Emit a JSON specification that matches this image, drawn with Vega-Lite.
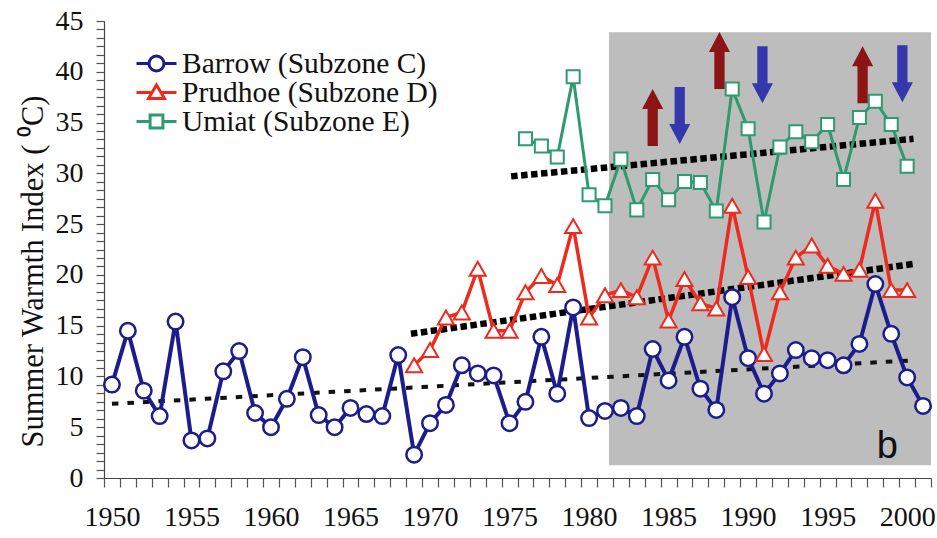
{
  "$schema": "https://vega.github.io/schema/vega-lite/v6.json",
  "width": 827,
  "height": 457,
  "autosize": {"type": "none"},
  "padding": {"left": 104, "top": 21, "right": 6, "bottom": 60},
  "background": "white",
  "config": {
    "view": {"stroke": null},
    "axis": {
      "grid": false,
      "domainColor": "#444444",
      "domainWidth": 1.2,
      "tickColor": "#555555",
      "tickWidth": 1.2,
      "labelFont": "Liberation Serif",
      "labelFontSize": 28,
      "labelColor": "#111111",
      "labelOverlap": false,
      "titleFont": "Liberation Serif",
      "titleFontSize": 30.5,
      "titleFontWeight": "normal",
      "titleColor": "#111111"
    }
  },
  "datasets": {
    "series": [
      {"station": "Barrow (Subzone C)", "year": 1950, "value": 9.2},
      {"station": "Barrow (Subzone C)", "year": 1951, "value": 14.5},
      {"station": "Barrow (Subzone C)", "year": 1952, "value": 8.6},
      {"station": "Barrow (Subzone C)", "year": 1953, "value": 6.1},
      {"station": "Barrow (Subzone C)", "year": 1954, "value": 15.4},
      {"station": "Barrow (Subzone C)", "year": 1955, "value": 3.7},
      {"station": "Barrow (Subzone C)", "year": 1956, "value": 3.9},
      {"station": "Barrow (Subzone C)", "year": 1957, "value": 10.5},
      {"station": "Barrow (Subzone C)", "year": 1958, "value": 12.5},
      {"station": "Barrow (Subzone C)", "year": 1959, "value": 6.4},
      {"station": "Barrow (Subzone C)", "year": 1960, "value": 5.0},
      {"station": "Barrow (Subzone C)", "year": 1961, "value": 7.8},
      {"station": "Barrow (Subzone C)", "year": 1962, "value": 11.9},
      {"station": "Barrow (Subzone C)", "year": 1963, "value": 6.2},
      {"station": "Barrow (Subzone C)", "year": 1964, "value": 5.0},
      {"station": "Barrow (Subzone C)", "year": 1965, "value": 6.9},
      {"station": "Barrow (Subzone C)", "year": 1966, "value": 6.3},
      {"station": "Barrow (Subzone C)", "year": 1967, "value": 6.1},
      {"station": "Barrow (Subzone C)", "year": 1968, "value": 12.1},
      {"station": "Barrow (Subzone C)", "year": 1969, "value": 2.3},
      {"station": "Barrow (Subzone C)", "year": 1970, "value": 5.4},
      {"station": "Barrow (Subzone C)", "year": 1971, "value": 7.2},
      {"station": "Barrow (Subzone C)", "year": 1972, "value": 11.1},
      {"station": "Barrow (Subzone C)", "year": 1973, "value": 10.3},
      {"station": "Barrow (Subzone C)", "year": 1974, "value": 10.1},
      {"station": "Barrow (Subzone C)", "year": 1975, "value": 5.4},
      {"station": "Barrow (Subzone C)", "year": 1976, "value": 7.5},
      {"station": "Barrow (Subzone C)", "year": 1977, "value": 13.9},
      {"station": "Barrow (Subzone C)", "year": 1978, "value": 8.3},
      {"station": "Barrow (Subzone C)", "year": 1979, "value": 16.8},
      {"station": "Barrow (Subzone C)", "year": 1980, "value": 5.9},
      {"station": "Barrow (Subzone C)", "year": 1981, "value": 6.6},
      {"station": "Barrow (Subzone C)", "year": 1982, "value": 6.9},
      {"station": "Barrow (Subzone C)", "year": 1983, "value": 6.1},
      {"station": "Barrow (Subzone C)", "year": 1984, "value": 12.7},
      {"station": "Barrow (Subzone C)", "year": 1985, "value": 9.6},
      {"station": "Barrow (Subzone C)", "year": 1986, "value": 13.9},
      {"station": "Barrow (Subzone C)", "year": 1987, "value": 8.8},
      {"station": "Barrow (Subzone C)", "year": 1988, "value": 6.7},
      {"station": "Barrow (Subzone C)", "year": 1989, "value": 17.8},
      {"station": "Barrow (Subzone C)", "year": 1990, "value": 11.8},
      {"station": "Barrow (Subzone C)", "year": 1991, "value": 8.3},
      {"station": "Barrow (Subzone C)", "year": 1992, "value": 10.3},
      {"station": "Barrow (Subzone C)", "year": 1993, "value": 12.6},
      {"station": "Barrow (Subzone C)", "year": 1994, "value": 11.8},
      {"station": "Barrow (Subzone C)", "year": 1995, "value": 11.6},
      {"station": "Barrow (Subzone C)", "year": 1996, "value": 11.1},
      {"station": "Barrow (Subzone C)", "year": 1997, "value": 13.2},
      {"station": "Barrow (Subzone C)", "year": 1998, "value": 19.1},
      {"station": "Barrow (Subzone C)", "year": 1999, "value": 14.2},
      {"station": "Barrow (Subzone C)", "year": 2000, "value": 9.9},
      {"station": "Barrow (Subzone C)", "year": 2001, "value": 7.1},
      {"station": "Prudhoe (Subzone D)", "year": 1969, "value": 11.1},
      {"station": "Prudhoe (Subzone D)", "year": 1970, "value": 12.6},
      {"station": "Prudhoe (Subzone D)", "year": 1971, "value": 15.8},
      {"station": "Prudhoe (Subzone D)", "year": 1972, "value": 16.3},
      {"station": "Prudhoe (Subzone D)", "year": 1973, "value": 20.6},
      {"station": "Prudhoe (Subzone D)", "year": 1974, "value": 14.5},
      {"station": "Prudhoe (Subzone D)", "year": 1975, "value": 14.5},
      {"station": "Prudhoe (Subzone D)", "year": 1976, "value": 18.3},
      {"station": "Prudhoe (Subzone D)", "year": 1977, "value": 19.9},
      {"station": "Prudhoe (Subzone D)", "year": 1978, "value": 19.0},
      {"station": "Prudhoe (Subzone D)", "year": 1979, "value": 24.8},
      {"station": "Prudhoe (Subzone D)", "year": 1980, "value": 15.8},
      {"station": "Prudhoe (Subzone D)", "year": 1981, "value": 18.0},
      {"station": "Prudhoe (Subzone D)", "year": 1982, "value": 18.5},
      {"station": "Prudhoe (Subzone D)", "year": 1983, "value": 17.8},
      {"station": "Prudhoe (Subzone D)", "year": 1984, "value": 21.7},
      {"station": "Prudhoe (Subzone D)", "year": 1985, "value": 15.5},
      {"station": "Prudhoe (Subzone D)", "year": 1986, "value": 19.6},
      {"station": "Prudhoe (Subzone D)", "year": 1987, "value": 17.2},
      {"station": "Prudhoe (Subzone D)", "year": 1988, "value": 16.7},
      {"station": "Prudhoe (Subzone D)", "year": 1989, "value": 26.8},
      {"station": "Prudhoe (Subzone D)", "year": 1990, "value": 19.8},
      {"station": "Prudhoe (Subzone D)", "year": 1991, "value": 12.2},
      {"station": "Prudhoe (Subzone D)", "year": 1992, "value": 18.3},
      {"station": "Prudhoe (Subzone D)", "year": 1993, "value": 21.7},
      {"station": "Prudhoe (Subzone D)", "year": 1994, "value": 22.9},
      {"station": "Prudhoe (Subzone D)", "year": 1995, "value": 20.9},
      {"station": "Prudhoe (Subzone D)", "year": 1996, "value": 20.1},
      {"station": "Prudhoe (Subzone D)", "year": 1997, "value": 20.5},
      {"station": "Prudhoe (Subzone D)", "year": 1998, "value": 27.3},
      {"station": "Prudhoe (Subzone D)", "year": 1999, "value": 18.5},
      {"station": "Prudhoe (Subzone D)", "year": 2000, "value": 18.5},
      {"station": "Umiat (Subzone E)", "year": 1976, "value": 33.4},
      {"station": "Umiat (Subzone E)", "year": 1977, "value": 32.7},
      {"station": "Umiat (Subzone E)", "year": 1978, "value": 31.6},
      {"station": "Umiat (Subzone E)", "year": 1979, "value": 39.5},
      {"station": "Umiat (Subzone E)", "year": 1980, "value": 27.9},
      {"station": "Umiat (Subzone E)", "year": 1981, "value": 26.8},
      {"station": "Umiat (Subzone E)", "year": 1982, "value": 31.4},
      {"station": "Umiat (Subzone E)", "year": 1983, "value": 26.4},
      {"station": "Umiat (Subzone E)", "year": 1984, "value": 29.4},
      {"station": "Umiat (Subzone E)", "year": 1985, "value": 27.4},
      {"station": "Umiat (Subzone E)", "year": 1986, "value": 29.2},
      {"station": "Umiat (Subzone E)", "year": 1987, "value": 29.1},
      {"station": "Umiat (Subzone E)", "year": 1988, "value": 26.3},
      {"station": "Umiat (Subzone E)", "year": 1989, "value": 38.3},
      {"station": "Umiat (Subzone E)", "year": 1990, "value": 34.4},
      {"station": "Umiat (Subzone E)", "year": 1991, "value": 25.2},
      {"station": "Umiat (Subzone E)", "year": 1992, "value": 32.6},
      {"station": "Umiat (Subzone E)", "year": 1993, "value": 34.1},
      {"station": "Umiat (Subzone E)", "year": 1994, "value": 33.1},
      {"station": "Umiat (Subzone E)", "year": 1995, "value": 34.8},
      {"station": "Umiat (Subzone E)", "year": 1996, "value": 29.4},
      {"station": "Umiat (Subzone E)", "year": 1997, "value": 35.5},
      {"station": "Umiat (Subzone E)", "year": 1998, "value": 37.1},
      {"station": "Umiat (Subzone E)", "year": 1999, "value": 34.8},
      {"station": "Umiat (Subzone E)", "year": 2000, "value": 30.7}
    ],
    "trends": [
      {"trend": "Barrow", "year": 1950, "value": 7.3},
      {"trend": "Barrow", "year": 2000.6, "value": 11.6},
      {"trend": "Prudhoe", "year": 1968.8, "value": 14.2},
      {"trend": "Prudhoe", "year": 2000.5, "value": 21.1},
      {"trend": "Umiat", "year": 1975.1, "value": 29.7},
      {"trend": "Umiat", "year": 2000.4, "value": 33.4}
    ],
    "arrows": [
      {"dir": "up", "year": 1984.0, "value": 35.5},
      {"dir": "down", "year": 1985.7, "value": 35.7},
      {"dir": "up", "year": 1988.2, "value": 41.1},
      {"dir": "down", "year": 1990.9, "value": 39.7},
      {"dir": "up", "year": 1997.2, "value": 39.7},
      {"dir": "down", "year": 1999.7, "value": 39.8}
    ],
    "period": [
      {"year": 1981.25, "year_end": 2001.5, "value": 1.25, "value_top": 43.9}
    ],
    "panel": [
      {"label": "b", "year": 1998.75, "value": 2.0}
    ],
    "stations": [
      {"station": "Barrow (Subzone C)", "year": 1950, "value": 0},
      {"station": "Prudhoe (Subzone D)", "year": 1950, "value": 0},
      {"station": "Umiat (Subzone E)", "year": 1950, "value": 0}
    ]
  },
  "encoding": {
    "x": {
      "field": "year",
      "type": "quantitative",
      "scale": {"domain": [1949.5, 2001.5], "nice": false, "zero": false},
      "axis": {
        "title": null,
        "values": [1949.5, 1950.5, 1951.5, 1952.5, 1953.5, 1954.5, 1955.5, 1956.5, 1957.5, 1958.5, 1959.5, 1960.5, 1961.5, 1962.5, 1963.5, 1964.5, 1965.5, 1966.5, 1967.5, 1968.5, 1969.5, 1970.5, 1971.5, 1972.5, 1973.5, 1974.5, 1975.5, 1976.5, 1977.5, 1978.5, 1979.5, 1980.5, 1981.5, 1982.5, 1983.5, 1984.5, 1985.5, 1986.5, 1987.5, 1988.5, 1989.5, 1990.5, 1991.5, 1992.5, 1993.5, 1994.5, 1995.5, 1996.5, 1997.5, 1998.5, 1999.5, 2000.5, 2001.5, 1950, 1955, 1960, 1965, 1970, 1975, 1980, 1985, 1990, 1995, 2000],
        "labelExpr": "datum.value % 5 === 0 ? '' + datum.value : ''",
        "tickSize": {"condition": {"test": "datum.value % 1 === 0", "value": 0}, "value": 9},
        "labelPadding": 25
      }
    },
    "y": {
      "field": "value",
      "type": "quantitative",
      "scale": {"domain": [0, 45], "nice": false, "zero": true},
      "axis": {
        "title": "Summer Warmth Index ( ⁰C)",
        "values": [0, 0.8333, 1.6667, 2.5, 3.3333, 4.1667, 5, 5.8333, 6.6667, 7.5, 8.3333, 9.1667, 10, 10.8333, 11.6667, 12.5, 13.3333, 14.1667, 15, 15.8333, 16.6667, 17.5, 18.3333, 19.1667, 20, 20.8333, 21.6667, 22.5, 23.3333, 24.1667, 25, 25.8333, 26.6667, 27.5, 28.3333, 29.1667, 30, 30.8333, 31.6667, 32.5, 33.3333, 34.1667, 35, 35.8333, 36.6667, 37.5, 38.3333, 39.1667, 40, 40.8333, 41.6667, 42.5, 43.3333, 44.1667, 45],
        "labelExpr": "datum.value % 5 === 0 ? '' + datum.value : ''",
        "tickSize": 8,
        "labelPadding": 13,
        "titlePadding": 7,
        "titleY": 250
      }
    }
  },
  "layer": [
    {
      "data": {"name": "period"},
      "mark": {"type": "rect", "color": "#bdbdbd"},
      "encoding": {
        "x2": {"field": "year_end"},
        "y2": {"field": "value_top"}
      }
    },
    {
      "data": {"name": "trends"},
      "transform": [{"filter": "datum.trend === 'Barrow'"}],
      "mark": {"type": "line", "color": "#111111", "strokeWidth": 4, "strokeDash": [6.5, 9], "strokeCap": "butt"}
    },
    {
      "data": {"name": "trends"},
      "transform": [{"filter": "datum.trend !== 'Barrow'"}],
      "mark": {"type": "line", "color": "#000000", "strokeWidth": 6.5, "strokeDash": [6.5, 3.5], "strokeCap": "butt"},
      "encoding": {
        "detail": {"field": "trend"}
      }
    },
    {
      "data": {"name": "series"},
      "transform": [{"filter": "datum.station === 'Barrow (Subzone C)'"}],
      "mark": {"type": "line", "color": "#1c1c8c", "strokeWidth": 4}
    },
    {
      "data": {"name": "series"},
      "transform": [{"filter": "datum.station === 'Barrow (Subzone C)'"}],
      "mark": {"type": "point", "shape": "circle", "size": 240, "filled": false, "fill": "white", "fillOpacity": 1, "opacity": 1, "stroke": "#1c1c8c", "strokeWidth": 2.5}
    },
    {
      "data": {"name": "series"},
      "transform": [{"filter": "datum.station === 'Prudhoe (Subzone D)'"}],
      "mark": {"type": "line", "color": "#ee2a1e", "strokeWidth": 3.5}
    },
    {
      "data": {"name": "series"},
      "transform": [{"filter": "datum.station === 'Prudhoe (Subzone D)'"}],
      "mark": {"type": "point", "shape": "triangle-up", "size": 260, "filled": false, "fill": "white", "fillOpacity": 1, "opacity": 1, "stroke": "#ee2a1e", "strokeWidth": 2}
    },
    {
      "data": {"name": "series"},
      "transform": [{"filter": "datum.station === 'Umiat (Subzone E)'"}],
      "mark": {"type": "line", "color": "#2e9a70", "strokeWidth": 3}
    },
    {
      "data": {"name": "series"},
      "transform": [{"filter": "datum.station === 'Umiat (Subzone E)'"}],
      "mark": {"type": "point", "shape": "square", "size": 170, "filled": false, "fill": "white", "fillOpacity": 1, "opacity": 1, "stroke": "#2e9a70", "strokeWidth": 2}
    },
    {
      "data": {"name": "arrows"},
      "transform": [{"filter": "datum.dir === 'up'"}],
      "mark": {"type": "point", "shape": "M0,-1L0.37,-0.3L0.18,-0.3L0.18,1L-0.18,1L-0.18,-0.3L-0.37,-0.3Z", "size": 3249, "filled": true, "color": "#8b1414", "opacity": 1, "strokeWidth": 0}
    },
    {
      "data": {"name": "arrows"},
      "transform": [{"filter": "datum.dir === 'down'"}],
      "mark": {"type": "point", "shape": "M0,1L0.37,0.3L0.18,0.3L0.18,-1L-0.18,-1L-0.18,0.3L-0.37,0.3Z", "size": 3249, "filled": true, "color": "#3438aa", "opacity": 1, "strokeWidth": 0}
    },
    {
      "data": {"name": "panel"},
      "mark": {"type": "text", "font": "Liberation Sans", "fontSize": 38, "color": "#111111", "align": "center", "baseline": "alphabetic"},
      "encoding": {
        "text": {"field": "label"}
      }
    },
    {
      "data": {"name": "stations"},
      "mark": {"type": "point", "filled": false, "opacity": 0},
      "encoding": {
        "color": {
          "field": "station",
          "type": "nominal",
          "scale": {
            "domain": ["Barrow (Subzone C)", "Prudhoe (Subzone D)", "Umiat (Subzone E)"],
            "range": ["#1c1c8c", "#ee2a1e", "#2e9a70"]
          },
          "legend": {
            "title": null,
            "orient": "none",
            "legendX": 31,
            "legendY": 29,
            "padding": 0,
            "rowPadding": -1,
            "clipHeight": 27,
            "symbolSize": 1600,
            "symbolStrokeWidth": 3,
            "symbolFillColor": "white",
            "symbolOpacity": 1,
            "labelFont": "Liberation Serif",
            "labelFontSize": 29.5,
            "labelColor": "#111111",
            "labelOffset": 4,
            "labelLimit": 500,
            "encode": {"symbols": {"update": {"fill": {"value": "white"}, "fillOpacity": {"value": 1}, "opacity": {"value": 1}}}}
          }
        },
        "shape": {
          "field": "station",
          "type": "nominal",
          "scale": {
            "domain": ["Barrow (Subzone C)", "Prudhoe (Subzone D)", "Umiat (Subzone E)"],
            "range": [
              "M-1,0H-0.375M0.375,0H1M-0.375,0A0.375,0.375,0,1,0,0.375,0A0.375,0.375,0,1,0,-0.375,0Z",
              "M-1,0H-0.22M0.22,0H1M0,-0.38L0.4,0.3L-0.4,0.3Z",
              "M-1,0H-0.32M0.32,0H1M-0.32,-0.32H0.32V0.32H-0.32Z"
            ]
          },
          "legend": {
            "title": null,
            "orient": "none",
            "legendX": 31,
            "legendY": 29,
            "padding": 0,
            "rowPadding": -1,
            "clipHeight": 27,
            "symbolSize": 1600,
            "symbolStrokeWidth": 3,
            "symbolFillColor": "white",
            "symbolOpacity": 1,
            "labelFont": "Liberation Serif",
            "labelFontSize": 29.5,
            "labelColor": "#111111",
            "labelOffset": 4,
            "labelLimit": 500,
            "encode": {"symbols": {"update": {"fill": {"value": "white"}, "fillOpacity": {"value": 1}, "opacity": {"value": 1}}}}
          }
        }
      }
    }
  ]
}
